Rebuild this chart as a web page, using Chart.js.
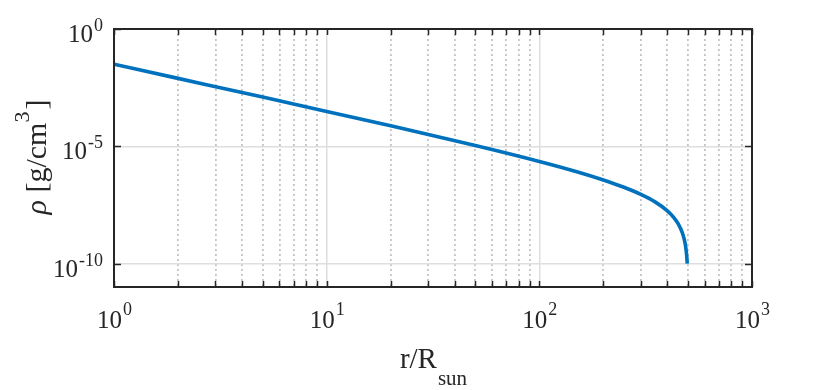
<!DOCTYPE html>
<html>
<head>
<meta charset="utf-8">
<script src="https://cdn.jsdelivr.net/npm/chart.js@4"></script>
<style>
  body { margin: 0; background: #fff; }
  canvas { display: block; }
</style>
</head>
<body>
<canvas id="rhoChart" width="830" height="390"></canvas>
<script>
// r / R_sun and density
const radius = [1, 2, 5, 10, 20, 50, 100, 150, 200, 250, 300, 350, 400, 430, 450, 470, 480, 488, 493, 496];
const density = [3.15e-2, 7.85e-3, 1.25e-3, 3.07e-4, 7.43e-5, 1.08e-5, 2.26e-6, 8.24e-7, 3.67e-7,
                 1.79e-7, 8.9e-8, 4.25e-8, 1.77e-8, 8.95e-9, 4.94e-9, 2.1e-9, 1.1e-9, 4.93e-10, 2.15e-10, 1.0e-10];

const xMajor = [1, 10, 100, 1000];
const xMinor = [2, 3, 4, 5, 6, 7, 8, 9, 20, 30, 40, 50, 60, 70, 80, 90, 200, 300, 400, 500, 600, 700, 800, 900];
const yMajor = [1e-10, 1e-5, 1];
const xTickExp = ["0", "1", "2", "3"];
const yTickExp = ["-10", "-5", "0"];

const ink = "#262626";
const serif = "'Liberation Serif', 'DejaVu Serif', serif";

function noSize(scale) {
    if (scale.isHorizontal()) scale.height = 0; else scale.width = 0;
}

// box, inward ticks and the TeX-like labels
const axesPlugin = {
    id: "matlabAxes",
    afterDraw(chart) {
        const ctx = chart.ctx;
        const a = chart.chartArea;
        const xs = chart.scales.x;
        const ys = chart.scales.y;
        ctx.save();
        ctx.strokeStyle = ink;
        ctx.lineWidth = 1.5;

        // ticks
        ctx.beginPath();
        xMajor.concat(xMinor).forEach(v => {
            const px = Math.round(xs.getPixelForValue(v)) + 0.5;
            ctx.moveTo(px, a.bottom); ctx.lineTo(px, a.bottom - 6);
            ctx.moveTo(px, a.top); ctx.lineTo(px, a.top + 6);
        });
        yMajor.forEach(v => {
            const py = Math.round(ys.getPixelForValue(v)) + 0.5;
            ctx.moveTo(a.left, py); ctx.lineTo(a.left + 7, py);
            ctx.moveTo(a.right, py); ctx.lineTo(a.right - 7, py);
        });
        ctx.stroke();

        ctx.lineWidth = 2;
        ctx.strokeRect(a.left, a.top, a.right - a.left, a.bottom - a.top);

        ctx.fillStyle = ink;
        ctx.textBaseline = "alphabetic";
        const big = "25px " + serif;
        const sup = "18px " + serif;

        // x tick labels, centred as a whole on the tick
        xMajor.forEach((v, i) => {
            ctx.font = big;
            const w1 = ctx.measureText("10").width;
            ctx.font = sup;
            const w2 = ctx.measureText(xTickExp[i]).width;
            const px = xs.getPixelForValue(v);
            const x0 = px - (w1 + w2) / 2;
            ctx.textAlign = "left";
            ctx.font = big;
            ctx.fillText("10", x0, 328);
            ctx.font = sup;
            ctx.fillText(xTickExp[i], x0 + w1 + 1, 315);
        });

        // y tick labels, right aligned
        yMajor.forEach((v, i) => {
            const py = ys.getPixelForValue(v);
            ctx.font = sup;
            const w2 = ctx.measureText(yTickExp[i]).width;
            const xr = a.left - 11;
            ctx.textAlign = "left";
            ctx.fillText(yTickExp[i], xr - w2, py + 2);
            ctx.textAlign = "right";
            ctx.font = big;
            ctx.fillText("10", xr - w2 - 1, py + 13);
        });

        // x axis title: r/R_sun
        ctx.textAlign = "left";
        ctx.font = "29px " + serif;
        const wMain = ctx.measureText("r/R").width;
        ctx.font = "21px " + serif;
        const wSub = ctx.measureText("sun").width;
        const xt = (a.left + a.right) / 2 - (wMain + wSub) / 2;
        ctx.font = "29px " + serif;
        ctx.fillText("r/R", xt, 368);
        ctx.font = "21px " + serif;
        ctx.fillText("sun", xt + wMain + 1, 385);

        // y axis title: rho [g/cm^3]
        ctx.translate(46, (a.top + a.bottom) / 2);
        ctx.rotate(-Math.PI / 2);
        const parts = [
            { t: "\u03C1", f: "italic 30px " + serif, dy: 0 },
            { t: " [g/cm", f: "30px " + serif, dy: 0 },
            { t: "3", f: "22px " + serif, dy: -17 },
            { t: "]", f: "30px " + serif, dy: 0 }
        ];
        let total = 0;
        parts.forEach(p => { ctx.font = p.f; p.w = ctx.measureText(p.t).width; total += p.w; });
        let xx = -total / 2;
        parts.forEach(p => {
            ctx.font = p.f;
            ctx.fillText(p.t, xx, p.dy);
            xx += p.w + (p.t === "3" ? 2 : 0);
        });
        ctx.restore();
    }
};

new Chart(document.getElementById("rhoChart"), {
    type: "line",
    data: {
        datasets: [{
            data: radius.map((r, i) => ({ x: r, y: density[i] })),
            borderColor: "#0072BD",
            borderWidth: 3.6,
            pointRadius: 0,
            fill: false,
            cubicInterpolationMode: "monotone"
        }]
    },
    options: {
        responsive: false,
        animation: false,
        devicePixelRatio: 1,
        layout: { padding: { left: 114, right: 78, top: 29, bottom: 103 } },
        plugins: { legend: { display: false }, tooltip: { enabled: false } },
        scales: {
            x: {
                type: "logarithmic", min: 1, max: 1000, position: "bottom",
                afterBuildTicks: s => { s.ticks = xMajor.map(v => ({ value: v })); },
                afterFit: noSize,
                ticks: { display: false },
                grid: { color: "#dedede", lineWidth: 1.5, drawTicks: false },
                border: { display: false }
            },
            xMinor: {
                type: "logarithmic", min: 1, max: 1000, position: "bottom",
                afterBuildTicks: s => { s.ticks = xMinor.map(v => ({ value: v })); },
                afterFit: noSize,
                ticks: { display: false },
                grid: { color: "#c4c4c4", lineWidth: 1.8, drawTicks: false },
                border: { display: false, dash: [2, 3] }
            },
            y: {
                type: "logarithmic", min: 1e-11, max: 1,
                afterBuildTicks: s => { s.ticks = yMajor.map(v => ({ value: v })); },
                afterFit: noSize,
                ticks: { display: false },
                grid: { color: "#dedede", lineWidth: 1.5, drawTicks: false },
                border: { display: false }
            }
        }
    },
    plugins: [axesPlugin]
});
</script>
</body>
</html>
